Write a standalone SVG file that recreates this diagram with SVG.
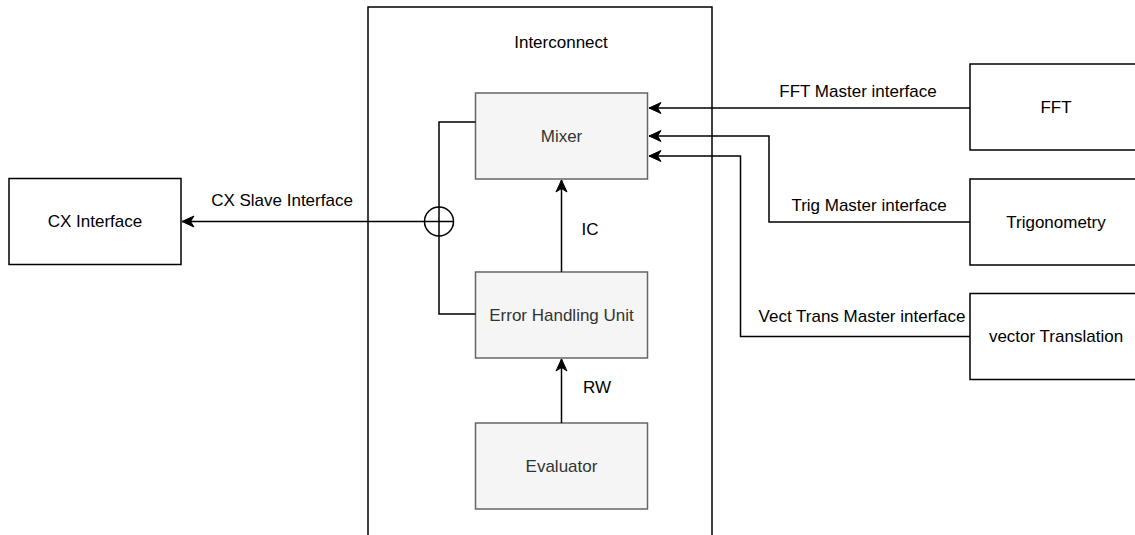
<svg xmlns="http://www.w3.org/2000/svg" width="1135" height="535" viewBox="0 0 1135 535">
  <style>
    .box { fill: #ffffff; stroke: #000000; stroke-width: 1.5; }
    .unit { fill: #f5f5f5; stroke: #666666; stroke-width: 1.5; }
    .wire { fill: none; stroke: #000000; stroke-width: 1.5; }
    text { font-family: "Liberation Sans", Arial, sans-serif; font-size: 17px; text-anchor: middle; fill: #000000; }
    .unit-label { fill: #333333; }
  </style>
  <defs>
    <marker id="arrow" viewBox="-13 -7 14 14" markerWidth="14" markerHeight="14" refX="0" refY="0" orient="auto" markerUnits="userSpaceOnUse">
      <path d="M0,0 L-12,-5.5 L-8.5,0 L-12,5.5 Z" fill="#000000" stroke="#000000" stroke-width="1"/>
    </marker>
  </defs>
  <rect width="1135" height="535" fill="#ffffff"/>

  <!-- Interconnect container -->
  <g id="interconnect">
    <rect class="box" x="368" y="7" width="344" height="540"/>
    <text x="561" y="48">Interconnect</text>
  </g>

  <!-- Units inside the interconnect -->
  <g id="mixer">
    <rect class="unit" x="475.5" y="93" width="172" height="86"/>
    <text class="unit-label" x="561.5" y="142">Mixer</text>
  </g>
  <g id="error-handling-unit">
    <rect class="unit" x="475.5" y="272" width="172" height="86"/>
    <text class="unit-label" x="561.5" y="321">Error Handling Unit</text>
  </g>
  <g id="evaluator">
    <rect class="unit" x="475.5" y="423" width="172" height="86"/>
    <text class="unit-label" x="561.5" y="472">Evaluator</text>
  </g>

  <!-- External blocks -->
  <g id="cx-interface">
    <rect class="box" x="9" y="178.5" width="172" height="86"/>
    <text x="95" y="227">CX Interface</text>
  </g>
  <g id="fft">
    <rect class="box" x="970" y="64" width="172" height="86"/>
    <text x="1056" y="113">FFT</text>
  </g>
  <g id="trigonometry">
    <rect class="box" x="970" y="179" width="172" height="86"/>
    <text x="1056" y="228">Trigonometry</text>
  </g>
  <g id="vector-translation">
    <rect class="box" x="970" y="293.5" width="172" height="86"/>
    <text x="1056" y="342">vector Translation</text>
  </g>

  <!-- Merge point (circle with cross) -->
  <g id="merge">
    <circle cx="439" cy="221.5" r="14.5" fill="none" stroke="#000000" stroke-width="1.5"/>
  </g>

  <!-- Connectors -->
  <g id="connectors">
    <path class="wire" d="M561.5,272 V180" marker-end="url(#arrow)"/>
    <path class="wire" d="M561.5,423 V359" marker-end="url(#arrow)"/>
    <path class="wire" d="M475.5,122 H439 V314 H475.5"/>
    <path class="wire" d="M453.5,221.5 H182" marker-end="url(#arrow)"/>
    <path class="wire" d="M970,108 H649" marker-end="url(#arrow)"/>
    <path class="wire" d="M970,222 H769 V136 H649" marker-end="url(#arrow)"/>
    <path class="wire" d="M970,336.5 H740.5 V156 H649" marker-end="url(#arrow)"/>
  </g>

  <!-- Connector labels -->
  <g id="labels">
    <text x="590" y="235">IC</text>
    <text x="597" y="393">RW</text>
    <text x="282" y="206">CX Slave Interface</text>
    <text x="858" y="97">FFT Master interface</text>
    <text x="869" y="211">Trig Master interface</text>
    <text x="862" y="322">Vect Trans Master interface</text>
  </g>
</svg>
